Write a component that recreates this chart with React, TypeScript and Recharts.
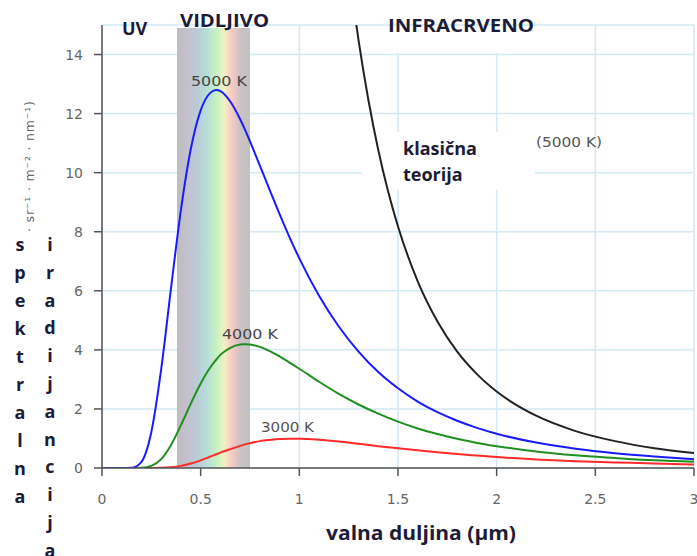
import React from "react";
import {
  LineChart,
  Line,
  XAxis,
  YAxis,
  CartesianGrid,
  ReferenceArea,
} from "recharts";

// wavelength in µm
const wavelengths = [
  0, 0.1, 0.15, 0.2, 0.25, 0.3, 0.35, 0.4, 0.45, 0.5, 0.55, 0.58, 0.6, 0.65,
  0.7, 0.725, 0.75, 0.8, 0.85, 0.9, 0.95, 1.0, 1.1, 1.2, 1.3, 1.4, 1.5, 1.6,
  1.7, 1.8, 1.9, 2.0, 2.2, 2.4, 2.6, 2.8, 3.0,
];

// spectral radiance
const radiance5000 = [
  0, 0, 0.007, 0.21, 1.22, 3.35, 6.1, 8.74, 10.8, 12.11, 12.71, 12.8, 12.76,
  12.41, 11.81, 11.45, 11.06, 10.24, 9.41, 8.6, 7.82, 7.1, 5.83, 4.79, 3.94,
  3.25, 2.7, 2.25, 1.89, 1.6, 1.36, 1.16, 0.86, 0.65, 0.5, 0.39, 0.3,
];
const radiance4000 = [
  null, null, 0, 0.006, 0.07, 0.3, 0.78, 1.45, 2.18, 2.86, 3.42, 3.68, 3.83,
  4.07, 4.18, 4.19, 4.18, 4.1, 3.96, 3.78, 3.57, 3.36, 2.92, 2.51, 2.15, 1.84,
  1.57, 1.34, 1.15, 0.99, 0.85, 0.74, 0.56, 0.43, 0.34, 0.26, 0.21,
];
const radiance3000 = [
  null, null, null, 0, 0.001, 0.006, 0.025, 0.072, 0.15, 0.26, 0.39, 0.465,
  0.52, 0.64, 0.75, 0.8, 0.84, 0.91, 0.95, 0.98, 0.99, 0.99, 0.96, 0.9, 0.82,
  0.74, 0.67, 0.6, 0.53, 0.47, 0.42, 0.37, 0.29, 0.23, 0.19, 0.15, 0.12,
];

// classical theory (5000 K)
const classicWavelengths = [
  1.25, 1.28, 1.3, 1.35, 1.4, 1.45, 1.5, 1.6, 1.7, 1.8, 1.9, 2.0, 2.2, 2.4, 2.6,
  2.8, 3.0,
];
const classicRadiance = [
  16.95, 15.42, 14.49, 12.46, 10.77, 9.36, 8.18, 6.32, 4.96, 3.94, 3.18, 2.59,
  1.77, 1.25, 0.91, 0.67, 0.51,
];

const xTicks = [0, 0.5, 1, 1.5, 2, 2.5, 3];
const yTicks = [0, 2, 4, 6, 8, 10, 12, 14];
const visibleRange = [0.38, 0.75];

const data = wavelengths.map((x, i) => ({
  x,
  t5000: radiance5000[i],
  t4000: radiance4000[i],
  t3000: radiance3000[i],
}));
const classicData = classicWavelengths.map((x, i) => ({
  x,
  classic: classicRadiance[i],
}));

const W = 697;
const H = 556;
const boldFont = "'Open Sans', 'Noto Sans', sans-serif";
const plainFont = "'DejaVu Sans', Verdana, sans-serif";
const labelColor = "#1c1c38";
const tickStyle = { fill: "#666", fontSize: 14, fontFamily: plainFont };

const col1 = "spektralna".split("");
const col2 = "iradijancija".split("");

export default function App() {
  return (
    <div style={{ position: "absolute", left: 0, top: 0, width: W, height: H, background: "#fff" }}>
      <LineChart
        width={W}
        height={H}
        data={data}
        margin={{ top: 25, right: 3, bottom: 58, left: 0 }}
      >
        <defs>
          <linearGradient id="visGrad" x1="0" y1="0" x2="1" y2="0">
            <stop offset="0%" stopColor="#bdbdbd" />
            <stop offset="12%" stopColor="#c3bfcc" />
            <stop offset="30%" stopColor="#bacdd7" />
            <stop offset="42%" stopColor="#b6e0d6" />
            <stop offset="55%" stopColor="#c9f2c2" />
            <stop offset="65%" stopColor="#f2f0c3" />
            <stop offset="75%" stopColor="#f8cac3" />
            <stop offset="86%" stopColor="#cdc3c3" />
            <stop offset="100%" stopColor="#c0c0c0" />
          </linearGradient>
        </defs>
        <CartesianGrid stroke="#d3e9f3" strokeWidth={1.5} />
        <ReferenceArea
          x1={visibleRange[0]}
          x2={visibleRange[1]}
          y1={0}
          y2={14.9}
          fill="url(#visGrad)"
          fillOpacity={1}
          stroke="none"
          ifOverflow="hidden"
        />
        <rect x={362} y={132} width={173} height={58} fill="#fff" />
        <rect x={380} y={26} width={170} height={27} fill="#fff" />
        <XAxis
          dataKey="x"
          type="number"
          domain={[0, 3]}
          ticks={xTicks}
          allowDataOverflow
          height={30}
          tickSize={8}
          tickMargin={18}
          tick={tickStyle}
          axisLine={{ stroke: "#555", strokeWidth: 1.5 }}
          tickLine={{ stroke: "#555", strokeWidth: 1.5 }}
          interval={0}
        />
        <YAxis
          type="number"
          domain={[0, 15]}
          ticks={yTicks}
          allowDataOverflow
          width={102}
          tickSize={8}
          tickMargin={11}
          tick={tickStyle}
          axisLine={{ stroke: "#555", strokeWidth: 1.5 }}
          tickLine={{ stroke: "#555", strokeWidth: 1.5 }}
          interval={0}
        />
        <Line
          dataKey="t3000"
          type="monotone"
          stroke="#ff2a2a"
          strokeWidth={2}
          dot={false}
          isAnimationActive={false}
        />
        <Line
          dataKey="t4000"
          type="monotone"
          stroke="#1f8f1f"
          strokeWidth={2}
          dot={false}
          isAnimationActive={false}
        />
        <Line
          dataKey="t5000"
          type="monotone"
          stroke="#1a1aff"
          strokeWidth={2}
          dot={false}
          isAnimationActive={false}
        />
        <Line
          data={classicData}
          dataKey="classic"
          type="monotone"
          stroke="#222"
          strokeWidth={2}
          dot={false}
          isAnimationActive={false}
        />
      </LineChart>
      <svg
        width={W}
        height={H}
        style={{ position: "absolute", left: 0, top: 0, pointerEvents: "none" }}
      >
        {/* region labels */}
        <text x={122} y={35} fontFamily={boldFont} fontWeight="bold" fontSize={18} fill={labelColor}>UV</text>
        <text x={180} y={27} fontFamily={boldFont} fontWeight="bold" fontSize={18} fill={labelColor} textLength={89} lengthAdjust="spacingAndGlyphs">VIDLJIVO</text>
        <text x={388} y={32} fontFamily={boldFont} fontWeight="bold" fontSize={18} fill={labelColor} textLength={146} lengthAdjust="spacingAndGlyphs">INFRACRVENO</text>
        <text x={403} y={155} fontFamily={boldFont} fontWeight="bold" fontSize={18} fill={labelColor}>klasična</text>
        <text x={403} y={181} fontFamily={boldFont} fontWeight="bold" fontSize={18} fill={labelColor}>teorija</text>
        <text x={536} y={147} fontFamily={plainFont} fontSize={14} fill="#555" textLength={66} lengthAdjust="spacingAndGlyphs">(5000 K)</text>
        {/* curve labels */}
        <text x={191} y={86} fontFamily={plainFont} fontSize={14} fill="#444" textLength={56} lengthAdjust="spacingAndGlyphs">5000 K</text>
        <text x={222} y={339} fontFamily={plainFont} fontSize={14} fill="#444" textLength={56} lengthAdjust="spacingAndGlyphs">4000 K</text>
        <text x={261} y={432} fontFamily={plainFont} fontSize={14} fill="#555" textLength={53} lengthAdjust="spacingAndGlyphs">3000 K</text>
        {/* y axis unit label */}
        <text
          x={0}
          y={0}
          transform="translate(34,232) rotate(-90)"
          fontFamily={plainFont}
          fontSize={12.5}
          fill="#666"
          textLength={131}
          lengthAdjust="spacing"
        >
          · sr⁻¹ · m⁻² · nm⁻¹)
        </text>
        {col1.map((ch, i) => (
          <text key={"a" + i} x={20} y={251 + i * 28} textAnchor="middle" fontFamily={boldFont} fontWeight="bold" fontSize={18} fill={labelColor}>
            {ch}
          </text>
        ))}
        {col2.map((ch, i) => (
          <text key={"b" + i} x={50} y={251 + i * 27.8} textAnchor="middle" fontFamily={boldFont} fontWeight="bold" fontSize={18} fill={labelColor}>
            {ch}
          </text>
        ))}
        {/* x axis label */}
        <text x={421} y={540} textAnchor="middle" fontFamily={boldFont} fontWeight="bold" fontSize={20} fill={labelColor} textLength={190} lengthAdjust="spacingAndGlyphs">
          valna duljina (µm)
        </text>
      </svg>
    </div>
  );
}
